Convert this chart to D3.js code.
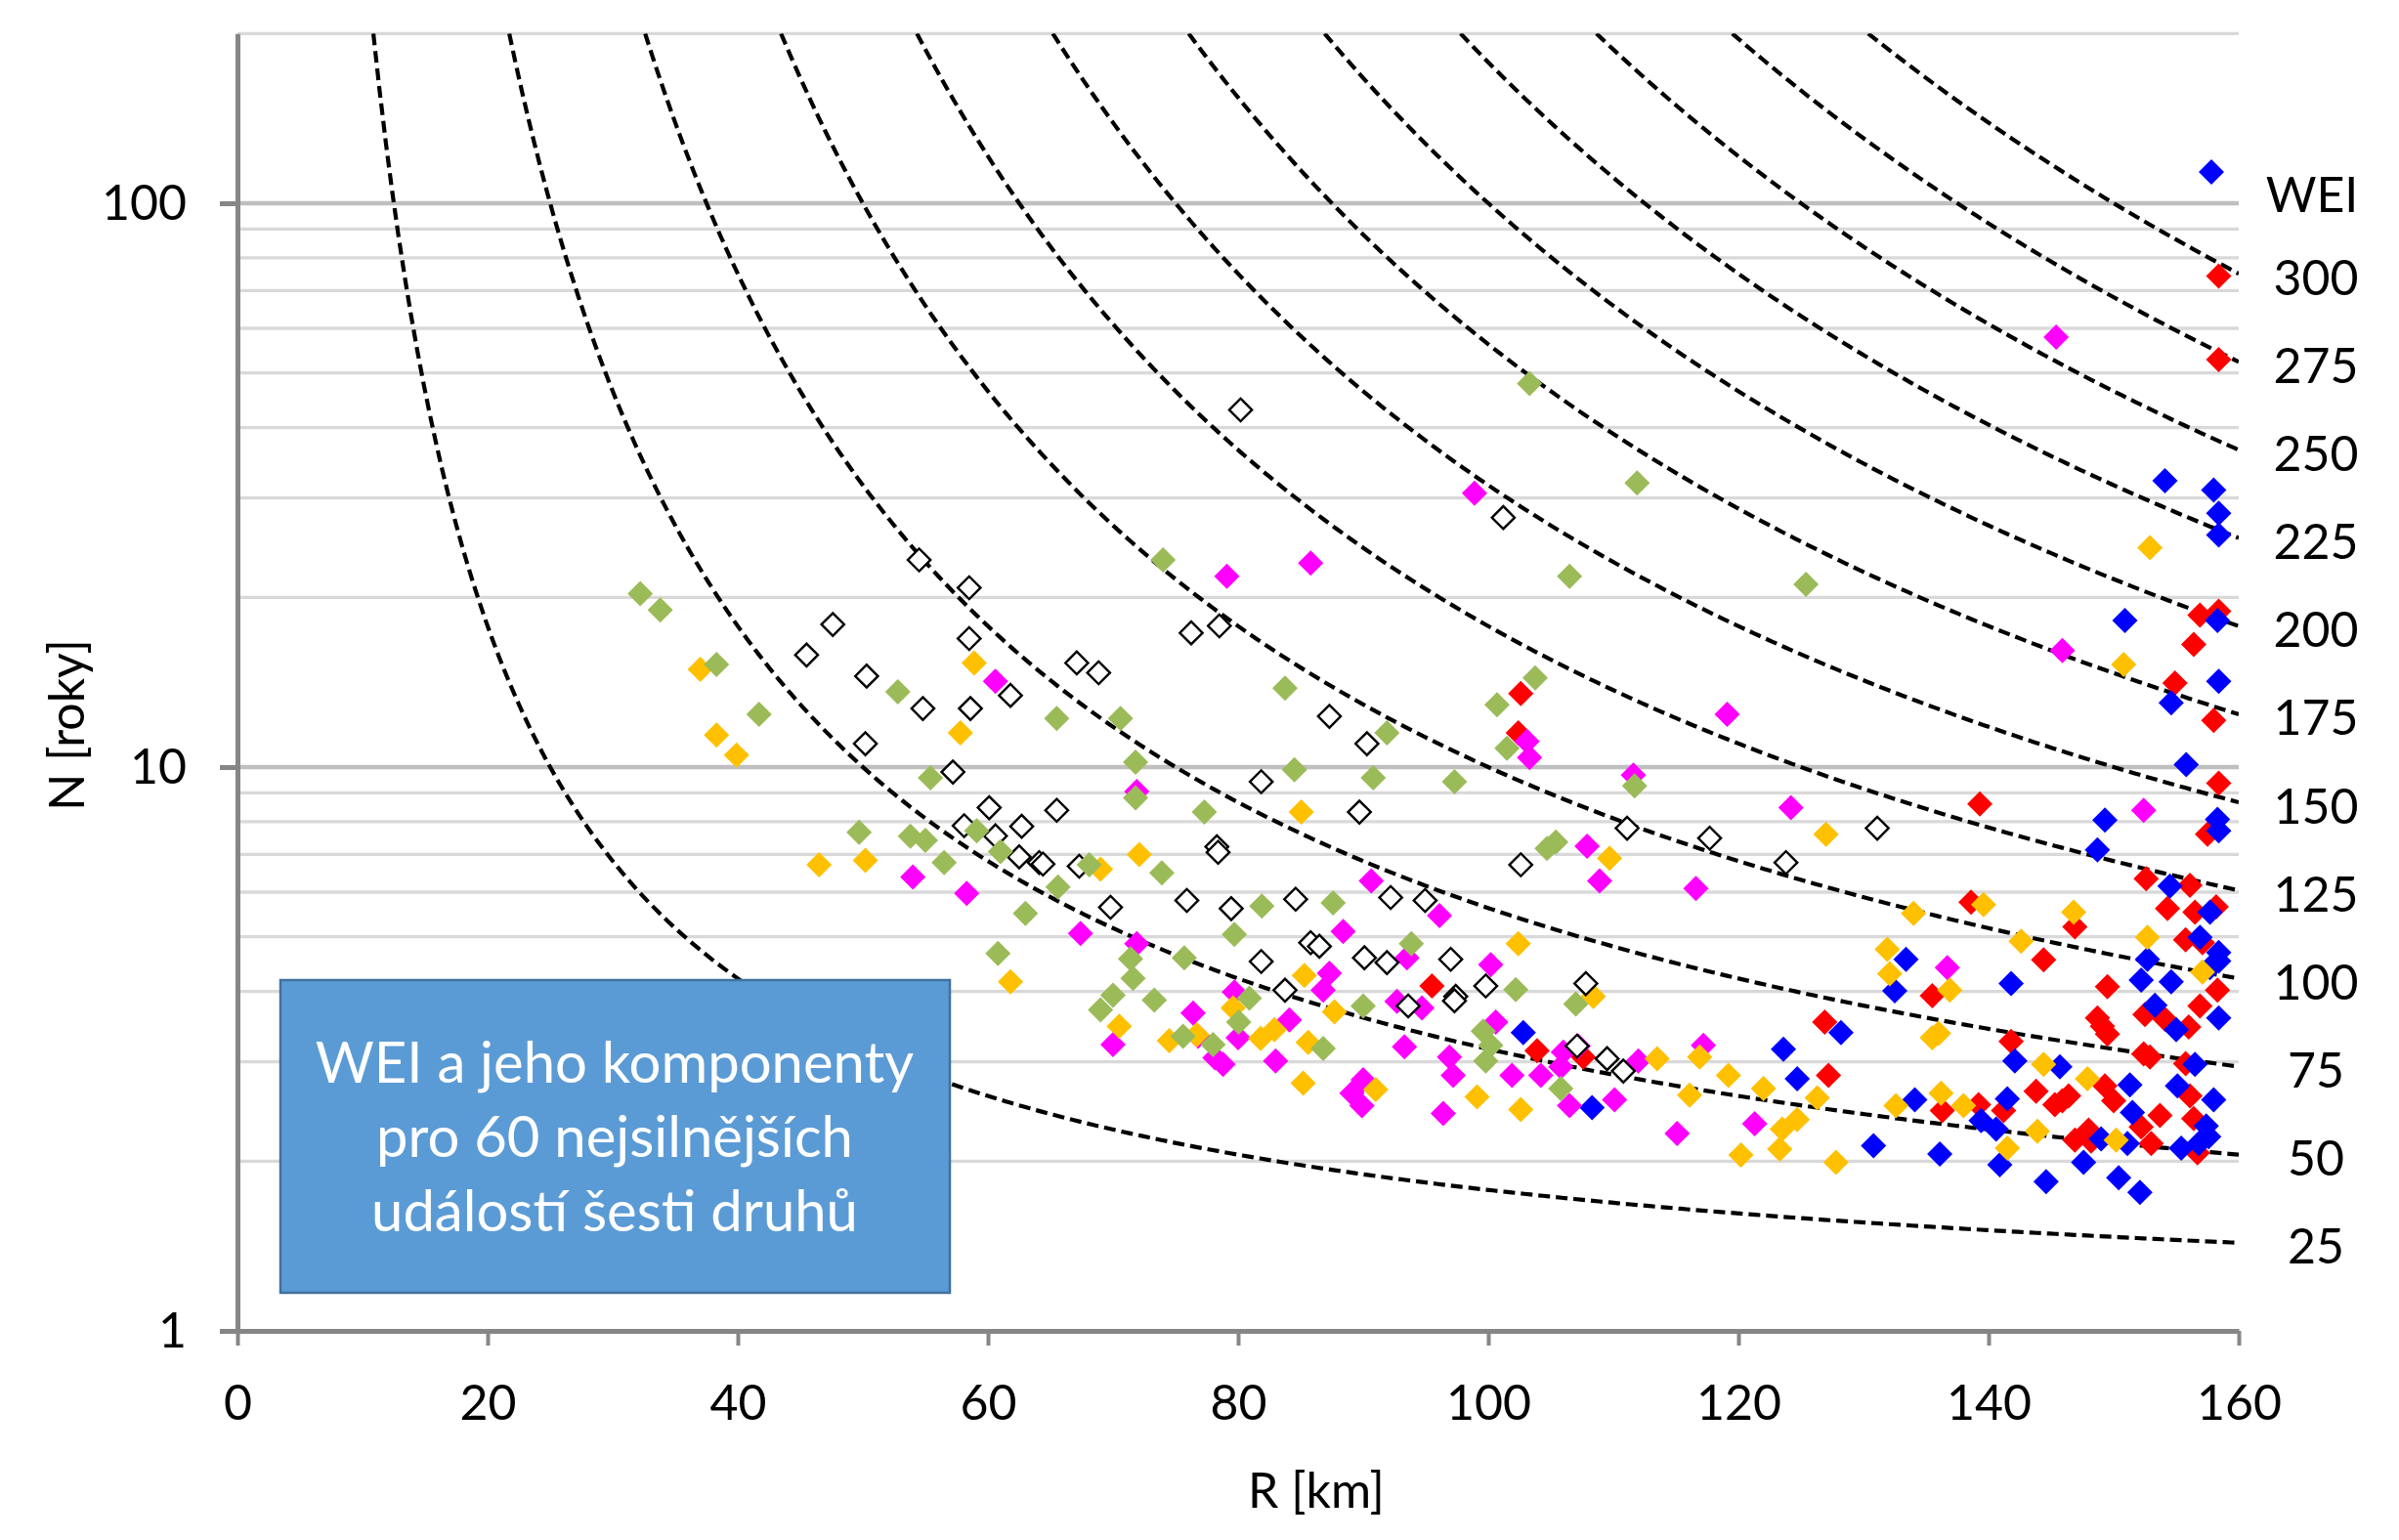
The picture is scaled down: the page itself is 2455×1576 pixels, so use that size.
<!DOCTYPE html>
<html>
<head>
<meta charset="utf-8">
<script src="https://cdn.jsdelivr.net/npm/d3@7"></script>
<style>
body { margin: 0; background: #fff; }
text { font-family: Lato, "Open Sans", sans-serif; fill: #000; }
</style>
</head>
<body>
<svg width="2455" height="1576"></svg>
<script>
// [R km, N years], one array per kind of marker
var weiPts = [[154.1,32.2],[158.0,31.0],[158.4,28.2],[158.4,25.8],[150.9,18.2],[158.3,18.2],[158.4,14.2],[154.6,13.0],[155.8,10.1],[149.3,8.05],[148.7,7.13],[158.3,8.08],[158.4,7.71],[154.5,6.15],[157.7,5.53],[156.9,4.99],[158.4,4.69],[158.4,4.53],[152.7,4.56],[157.7,4.41],[152.2,4.19],[154.6,4.16],[141.8,4.13],[133.4,4.56],[132.5,4.01],[128.2,3.38],[123.6,3.16],[142.1,3.01],[153.3,3.78],[155.0,3.42],[158.4,3.59],[156.5,2.97],[145.7,2.94],[124.7,2.80],[130.8,2.13],[136.1,2.06],[134.1,2.57],[139.4,2.36],[140.6,2.28],[141.5,2.58],[140.9,1.97],[144.6,1.84],[151.3,2.73],[151.5,2.44],[155.1,2.72],[158.0,2.57],[157.4,2.31],[157.6,2.21],[156.8,2.15],[155.4,2.11],[149.0,2.19],[151.1,2.15],[147.6,1.99],[150.4,1.87],[152.1,1.76],[102.8,3.38],[108.3,2.49]];

var redPts = [[158.4,74.3],[158.4,52.8],[156.9,18.6],[158.4,18.9],[156.4,16.5],[154.9,14.1],[158.0,12.1],[158.4,9.36],[139.3,8.6],[157.5,7.6],[152.6,6.34],[156.1,6.17],[154.3,5.61],[156.5,5.53],[158.2,5.65],[138.6,5.76],[146.9,5.21],[155.75,4.94],[157.1,4.88],[149.5,4.08],[158.3,4.02],[144.4,4.55],[135.5,3.93],[126.9,3.53],[141.8,3.26],[148.7,3.59],[149.5,3.36],[149.1,3.47],[152.5,3.64],[154.1,3.57],[156.0,3.46],[156.9,3.77],[152.4,3.10],[152.9,3.06],[155.75,2.98],[127.2,2.84],[136.3,2.46],[139.2,2.52],[141.2,2.46],[143.8,2.66],[145.3,2.52],[146.4,2.61],[145.9,2.56],[149.3,2.72],[150.0,2.56],[153.7,2.41],[152.2,2.30],[153.0,2.15],[156.1,2.61],[156.4,2.38],[156.7,2.07],[146.9,2.18],[148.0,2.27],[148.2,2.17],[102.6,13.5],[102.4,11.5],[95.5,4.09],[103.9,3.14],[107.6,3.06]];

var magentaPts = [[145.4,57.9],[98.9,30.6],[79.1,21.8],[85.8,23.0],[145.9,16.1],[60.6,14.2],[119.1,12.4],[103.1,11.1],[103.3,10.4],[111.6,9.68],[71.9,9.05],[124.2,8.47],[152.4,8.38],[107.9,7.24],[108.9,6.28],[116.6,6.09],[90.65,6.28],[54.0,6.38],[58.3,5.97],[96.1,5.45],[67.4,5.07],[88.4,5.11],[71.9,4.86],[93.5,4.59],[100.2,4.46],[87.3,4.31],[86.8,4.02],[136.7,4.41],[79.7,3.99],[92.7,3.84],[94.7,3.74],[76.4,3.66],[84.1,3.56],[100.6,3.53],[80.0,3.31],[76.8,3.33],[70.0,3.22],[78.8,2.97],[78.15,3.05],[83.0,3.01],[89.1,2.64],[89.9,2.51],[90.0,2.79],[93.3,3.19],[96.9,3.06],[97.2,2.84],[101.9,2.84],[104.2,2.84],[105.8,2.94],[106.0,3.12],[107.2,3.20],[106.5,2.51],[110.1,2.57],[112.0,3.01],[117.2,3.21],[96.4,2.43],[115.1,2.24],[121.3,2.33]];

var orangePts = [[152.9,24.5],[150.8,15.2],[37.0,14.9],[58.9,15.3],[38.3,11.4],[39.9,10.5],[57.8,11.5],[85.05,8.32],[46.5,6.71],[50.2,6.83],[72.1,7.0],[69.0,6.59],[109.7,6.89],[127.0,7.6],[139.6,5.70],[146.8,5.53],[134.0,5.50],[102.4,4.86],[108.4,3.92],[61.8,4.16],[85.3,4.27],[79.6,3.74],[87.7,3.68],[70.5,3.47],[82.9,3.42],[81.8,3.30],[76.7,3.35],[74.5,3.27],[85.6,3.25],[85.2,2.75],[91.0,2.68],[113.5,3.04],[116.9,3.06],[99.1,2.60],[102.6,2.47],[116.1,2.62],[119.2,2.84],[122.0,2.69],[120.2,2.05],[142.6,4.91],[152.7,4.99],[157.1,4.33],[131.9,4.75],[132.1,4.30],[136.9,4.02],[136.0,3.37],[135.5,3.31],[144.4,2.97],[126.3,2.59],[124.7,2.37],[123.5,2.28],[123.3,2.10],[127.8,1.99],[132.6,2.51],[136.2,2.64],[138.0,2.51],[141.5,2.11],[143.9,2.26],[147.9,2.80],[150.2,2.18]];

var greenPts = [[32.2,20.3],[33.8,19.0],[38.3,15.2],[41.7,12.4],[52.8,13.6],[55.4,9.57],[49.7,7.66],[53.8,7.54],[55.0,7.41],[56.5,6.77],[59.1,7.71],[61.0,7.08],[74.0,23.3],[83.75,13.8],[65.5,12.2],[70.6,12.2],[71.8,10.2],[71.8,8.82],[84.5,9.89],[90.8,9.57],[91.9,11.5],[77.3,8.32],[68.1,6.71],[73.9,6.49],[65.6,6.13],[63.0,5.50],[81.9,5.67],[87.6,5.74],[79.7,5.05],[60.8,4.67],[71.4,4.57],[71.6,4.22],[75.7,4.59],[70.0,3.94],[69.0,3.71],[73.3,3.86],[80.9,3.89],[80.05,3.53],[90.0,3.77],[75.6,3.33],[78.0,3.22],[86.8,3.17],[103.3,47.9],[111.9,31.9],[106.5,21.8],[125.4,21.1],[103.75,14.4],[100.7,12.9],[101.5,10.8],[97.3,9.42],[111.7,9.26],[104.7,7.17],[105.4,7.36],[93.85,4.86],[102.2,4.03],[107.0,3.80],[99.6,3.40],[100.2,3.21],[99.8,3.01],[105.8,2.69]];

var hollowPts = [[80.2,43.0],[101.2,27.7],[54.5,23.3],[58.5,20.8],[47.6,17.9],[45.5,15.8],[58.5,16.9],[50.3,14.5],[54.8,12.7],[58.6,12.7],[50.2,11.0],[57.2,9.8],[60.1,8.47],[58.1,7.87],[60.6,7.55],[76.25,17.3],[78.5,17.8],[67.1,15.3],[68.85,14.7],[61.8,13.4],[87.3,12.3],[90.3,11.0],[81.85,9.42],[89.7,8.32],[65.5,8.38],[62.7,7.85],[62.5,6.93],[64.1,6.77],[64.4,6.73],[67.3,6.67],[78.3,7.22],[78.4,7.06],[69.8,5.64],[75.9,5.80],[79.45,5.61],[84.6,5.83],[92.2,5.87],[94.95,5.80],[81.85,4.52],[85.8,4.88],[86.5,4.81],[90.1,4.59],[91.9,4.50],[83.75,4.02],[111.1,7.79],[117.7,7.48],[102.6,6.71],[131.1,7.79],[123.8,6.77],[97.0,4.56],[99.8,4.09],[107.8,4.13],[97.4,3.92],[97.3,3.85],[93.6,3.77],[107.1,3.20],[109.5,3.04],[110.8,2.89]];

var weiLevels = [25, 50, 75, 100, 125, 150, 175, 200, 225, 250, 275, 300];
var xTicks = [0, 20, 40, 60, 80, 100, 120, 140, 160];
var yTicks = [1, 10, 100];
var boxLines = ['WEI a jeho komponenty', 'pro 60 nejsilnějších', 'událostí šesti druhů'];

function main() {
    var svg = d3.select('svg');
    var left = 243, right = 2291, bottom = 1362, decade = 577;

    var xScale = d3.scaleLinear().domain([0, 160]).range([left, right]);
    var yScale = d3.scaleLog().domain([1, 200]).range([bottom, bottom - decade * Math.log10(200)]);
    var top = yScale(200);

    svg.append('clipPath').attr('id', 'plot')
       .append('rect')
       .attr('x', left).attr('y', top)
       .attr('width', right - left).attr('height', bottom - top);

    // horizontal grid, darker on decades
    svg.append('g').selectAll('line')
       .data(yScale.ticks().filter(function(d) { return d > 1; }))
       .enter().append('line')
       .attr('x1', left).attr('x2', right)
       .attr('y1', function(d) { return yScale(d); })
       .attr('y2', function(d) { return yScale(d); })
       .attr('stroke', function(d) { return (d == 10 || d == 100) ? '#bfbfbf' : '#d9d9d9'; })
       .attr('stroke-width', function(d) { return (d == 10 || d == 100) ? 4.5 : 3.3; });

    // iso-WEI lines: log10(N) * R = WEI
    var line = d3.line()
        .x(function(d) { return xScale(d[0]); })
        .y(function(d) { return yScale(d[1]); });

    svg.append('g').attr('clip-path', 'url(#plot)')
       .selectAll('path')
       .data(weiLevels)
       .enter().append('path')
       .attr('d', function(w) {
           var r0 = w / Math.log10(200), pts = [];
           for (var r = r0; r < 160; r += 0.5) pts.push([r, Math.pow(10, w / r)]);
           pts.push([160, Math.pow(10, w / 160)]);
           return line(pts);
       })
       .attr('fill', 'none')
       .attr('stroke', '#000')
       .attr('stroke-width', 4.2)
       .attr('stroke-dasharray', '12,6');

    // axes
    var gx = svg.append('g')
       .attr('transform', 'translate(0,' + bottom + ')')
       .call(d3.axisBottom(xScale).tickValues(xTicks).tickSize(15).tickSizeOuter(0));
    gx.select('.domain').attr('stroke', '#868686').attr('stroke-width', 5);
    gx.selectAll('.tick line').attr('stroke', '#868686').attr('stroke-width', 4);
    gx.selectAll('.tick text').attr('y', 91).attr('dy', null)
      .style('font-size', '50px').style('font-family', 'Lato');

    var gy = svg.append('g')
       .attr('transform', 'translate(' + left + ',0)')
       .call(d3.axisLeft(yScale).tickValues(yTicks).tickFormat(d3.format('d')).tickSize(18).tickSizeOuter(0));
    gy.select('.domain').attr('stroke', '#868686').attr('stroke-width', 5);
    gy.selectAll('.tick line').attr('stroke', '#868686').attr('stroke-width', 5);
    gy.selectAll('.tick text').attr('x', -52)
      .style('font-size', '50px').style('font-family', 'Lato');

    svg.append('text')
       .attr('x', 1347).attr('y', 1543)
       .attr('text-anchor', 'middle')
       .style('font-size', '50px')
       .text('R [km]');

    svg.append('text')
       .attr('transform', 'translate(86,742) rotate(-90)')
       .attr('text-anchor', 'middle')
       .style('font-size', '50px')
       .text('N [roky]');

    // markers, drawn in the stacking order seen in the picture
    var diamond = d3.symbol().type(d3.symbolSquare).size(338);
    var hollow = d3.symbol().type(d3.symbolSquare).size(270);
    var series = [
        { pts: redPts, fill: '#ff0000' },
        { pts: weiPts, fill: '#0000ff' },
        { pts: magentaPts, fill: '#ff00ff' },
        { pts: orangePts, fill: '#ffc000' },
        { pts: hollowPts, fill: '#ffffff', stroke: '#000' },
        { pts: greenPts, fill: '#9bbb59' }
    ];
    series.forEach(function(s) {
        svg.append('g').selectAll('path')
           .data(s.pts)
           .enter().append('path')
           .attr('d', s.stroke ? hollow : diamond)
           .attr('transform', function(d) {
               return 'translate(' + xScale(d[0]) + ',' + yScale(d[1]) + ') rotate(45)';
           })
           .attr('fill', s.fill)
           .attr('stroke', s.stroke || 'none')
           .attr('stroke-width', s.stroke ? 2.4 : 0);
    });

    // legend + curve labels on the right
    svg.append('path')
       .attr('d', diamond)
       .attr('transform', 'translate(2263,176) rotate(45)')
       .attr('fill', '#0000ff');
    svg.append('text')
       .attr('x', 2366).attr('y', 199).attr('dy', '0.35em')
       .attr('text-anchor', 'middle')
       .style('font-size', '50px')
       .text('WEI');

    svg.append('g').selectAll('text')
       .data(weiLevels)
       .enter().append('text')
       .attr('x', 2370)
       .attr('y', function(w) { return yScale(Math.pow(10, w / 160)) + 4; })
       .attr('dy', '0.35em')
       .attr('text-anchor', 'middle')
       .style('font-size', '50px')
       .text(function(w) { return w; });

    // title box
    svg.append('rect')
       .attr('x', 287).attr('y', 1003)
       .attr('width', 685).attr('height', 320)
       .attr('fill', '#5b9bd5')
       .attr('stroke', '#41719c')
       .attr('stroke-width', 2.5);

    svg.append('g').selectAll('text')
       .data(boxLines)
       .enter().append('text')
       .attr('x', 629)
       .attr('y', function(d, i) { return 1108 + i * 76; })
       .attr('text-anchor', 'middle')
       .style('font-size', '58px')
       .style('fill', '#fff')
       .text(function(d) { return d; });
}
main();
</script>
</body>
</html>
